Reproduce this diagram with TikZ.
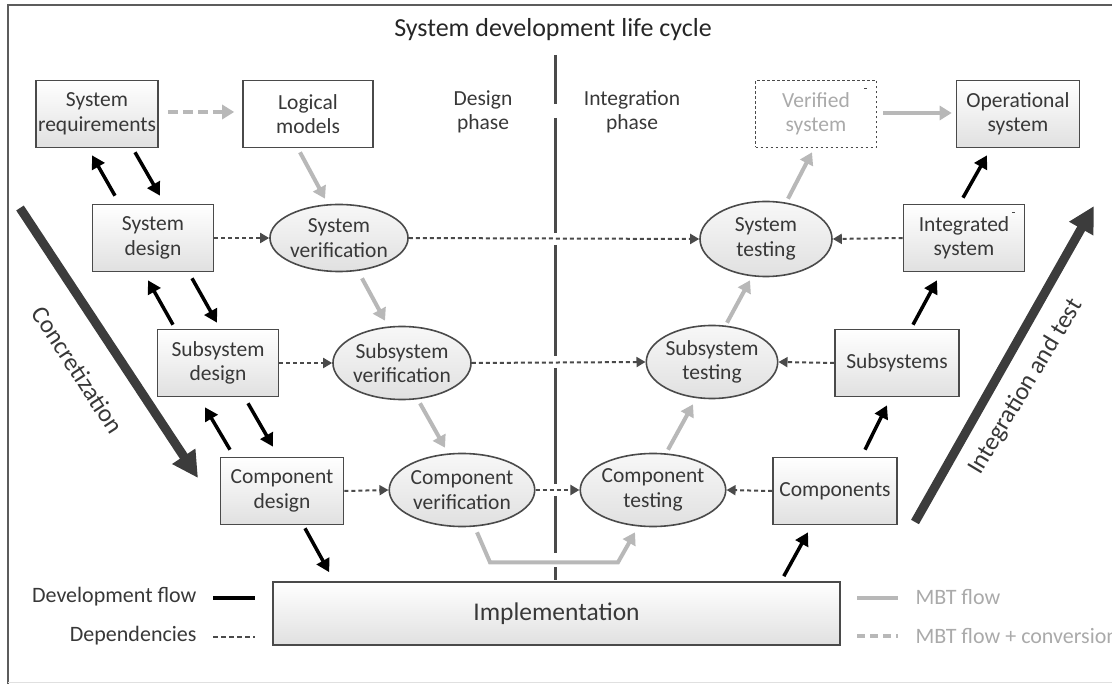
\documentclass[tikz,border=0pt]{standalone}
\usepackage{fontspec}
\setmainfont{Carlito}
\usetikzlibrary{arrows.meta,shapes.geometric,calc}
\definecolor{txt}{HTML}{383838}
\definecolor{edge}{HTML}{4A4A4A}
\definecolor{mbt}{HTML}{B8B8B8}
\definecolor{mbttxt}{HTML}{AAAAAA}
\definecolor{big}{HTML}{3C3C3C}
\newcommand{\nfont}{\fontsize{21.5}{24.5}\selectfont}
\begin{document}
\begin{tikzpicture}[x=1pt,y=-1pt,
  box/.style={draw=edge,line width=1.6pt,top color=white,bottom color=black!12,
    minimum width=121pt,minimum height=67pt,inner sep=2pt,align=center,font=\nfont,text=txt},
  ell/.style={ellipse,draw=edge,line width=1.6pt,top color=black!3,bottom color=black!12,
    minimum width=130pt,minimum height=73pt,inner sep=0pt,align=center,font=\nfont,text=txt},
  lbl/.style={align=center,font=\nfont,text=txt},
  flow/.style={black,line width=3.5pt,-{Triangle[length=13pt,width=14pt]}},
  gflow/.style={mbt,line width=4pt,-{Triangle[length=12pt,width=14pt]}},
  dep/.style={edge,line width=2pt,dash pattern=on 4pt off 3pt,-{Triangle[length=9pt,width=10pt]}},
  bigarrow/.style={big,line width=9pt,-{Triangle[length=26pt,width=26pt]}},
  legtxt/.style={font=\fontsize{22}{25}\selectfont,text=txt},
  mbtleg/.style={font=\fontsize{22}{25}\selectfont,text=mbttxt},
]
\useasboundingbox (0,0) rectangle (1112,684);
% frame
\draw[edge!90,line width=2pt] (1112,5) -- (8,5) -- (8,684);
\draw[black!12,line width=1pt] (8,682) -- (1112,682);

% title and phases
\node[font=\fontsize{26}{30}\selectfont,text=black!85] (title) at (553,30) {System development life cycle};
\node[lbl] (dphase) at (483,112) {Design\\phase};
\node[lbl] (iphase) at (632,112) {Integration\\phase};

% divider
\draw[edge,line width=3pt] (555,55) -- (555,104) (555,118) -- (555,233) (555,245) -- (555,356)
  (555,368) -- (555,484) (555,496) -- (555,553) (555,567) -- (555,580);

% boxes
\node[box] (sreq) at (97,114) {System\\requirements};
\node[box,top color=white,bottom color=white,minimum width=130pt] (lm) at (308,114) {Logical\\models};
\node[box,draw=edge,dash pattern=on 2.5pt off 2.5pt,top color=white,bottom color=white,text=mbttxt] (vs) at (816,114) {Verified\\system};
\node[box,minimum width=123pt] (op) at (1018,114) {Operational\\system};
\node[box] (sd) at (153,238) {System\\design};
\node[box] (is) at (964,238) {Integrated\\system};
\node[box] (ssd) at (218,363) {Subsystem\\design};
\node[box,minimum width=124pt] (subs) at (897,363) {Subsystems};
\node[box,minimum width=123pt] (cd) at (282,491) {Component\\design};
\node[box,minimum width=124pt] (comps) at (835,491) {Components};
\node[box,minimum width=567pt,minimum height=63pt,font=\fontsize{25.5}{30}\selectfont] (impl) at (556.5,613.5) {Implementation};

% small marks
\draw[edge,line width=1pt] (864,89) -- (867,89);
\draw[edge,line width=1pt] (1012,213) -- (1015,213);

% ellipses
\node[ell,minimum width=128pt,minimum height=67pt] (sv) at (339,238) {System\\verification};
\node[ell] (ssv) at (402,363) {Subsystem\\verification};
\node[ell] (cv) at (462,490) {Component\\verification};
\node[ell] (ct) at (653,490) {Component\\testing};
\node[ell,minimum width=129pt] (sst) at (712,362) {Subsystem\\testing};
\node[ell,minimum width=132pt,minimum height=75pt] (st) at (766,239) {System\\testing};

% dependencies
\draw[dep] (sd.east) -- (sv.west);
\draw[dep] (sv.east) -- (st.west);
\draw[dep] (is.west) -- (st.east);
\draw[dep] (ssd.east) -- (ssv.west);
\draw[dep] (ssv.east) -- (sst.west);
\draw[dep] (subs.west) -- (sst.east);
\draw[dep] (cd.east) -- (cv.west);
\draw[dep] (cv.east) -- (ct.west);
\draw[dep] (comps.west) -- (ct.east);

% MBT flow
\draw[gflow,dash pattern=on 10pt off 5pt] ([shift={(9,-2)}]sreq.east) -- ([shift={(-8,-2)}]lm.west);
\draw[gflow] ([shift={(-8,4)}]lm.south) -- ([shift={(-14,-5)}]sv.north);
\draw[gflow] ([shift={(23,6)}]sv.south) -- ([shift={(-17,-5)}]ssv.north);
\draw[gflow] ([shift={(18,3)}]ssv.south) -- ([shift={(-17,-5)}]cv.north);
\draw[gflow] ([shift={(15,5)}]cv.south) -- ++(13,30) -- ([shift={(-35,35)}]ct.south) -- ([shift={(-18,5)}]ct.south);
\draw[gflow] ([shift={(15,-3)}]ct.north) -- ([shift={(-19,5)}]sst.south);
\draw[gflow] ([shift={(15,-2)}]sst.north) -- ([shift={(-16,3)}]st.south);
\draw[gflow] ([shift={(22,-2)}]st.north) -- ([shift={(-4,4)}]vs.south);
\draw[gflow] ([shift={(6,-1)}]vs.east) -- ([shift={(-4,-1)}]op.west);

% development flow
\draw[flow] ([shift={(-38,-8)}]sd.north) -- ([shift={(-5,7)}]sreq.south);
\draw[flow] ([shift={(38,4)}]sreq.south) -- ([shift={(7,-8)}]sd.north);
\draw[flow] ([shift={(-45,-4)}]ssd.north) -- ([shift={(-5,8)}]sd.south);
\draw[flow] ([shift={(39,6)}]sd.south) -- ([shift={(-1,-6)}]ssd.north);
\draw[flow] ([shift={(-52,-7)}]cd.north) -- ([shift={(-13,10)}]ssd.south);
\draw[flow] ([shift={(30,6)}]ssd.south) -- ([shift={(-9,-10)}]cd.north);
\draw[flow] ([shift={(23,3)}]cd.south) -- ([shift={(57,-9)}]impl.north west);
\draw[flow] ([shift={(-57,-5)}]impl.north east) -- ([shift={(-27,7)}]comps.south);
\draw[flow] ([shift={(30,-7)}]comps.north) -- ([shift={(-10,8)}]subs.south);
\draw[flow] ([shift={(16,-4)}]subs.north) -- ([shift={(-27,8)}]is.south);
\draw[flow] ([shift={(-1,-6)}]is.north) -- ([shift={(-31,7)}]op.south);

% big arrows
\coordinate (c1) at (20,208);
\coordinate (c2) at (198,478);
\draw[bigarrow] (c1) -- (c2);
\node[font=\fontsize{25}{30}\selectfont,text=txt,rotate=-57] (conc) at (78,370) {Concretization};
\coordinate (i1) at (915,522);
\coordinate (i2) at (1094,206);
\draw[bigarrow] (i1) -- (i2);
\node[font=\fontsize{25}{30}\selectfont,text=txt,rotate=59] (integ) at (1026,387) {Integration and test};

% legend
\node[legtxt,anchor=east] (l1) at (200,597) {Development flow};
\node[legtxt,anchor=east] (l2) at (200,636) {Dependencies};
\draw[black,line width=4pt] (213,598) -- (255,598);
\draw[edge,line width=2pt,dash pattern=on 5pt off 3pt] (213,637) -- (255,637);
\draw[mbt,line width=4pt] (857,598) -- (898,598);
\draw[mbt,line width=4pt,dash pattern=on 8pt off 5pt] (857,636) -- (898,636);
\node[mbtleg,anchor=west] (l3) at (912,597) {MBT flow};
\node[mbtleg,anchor=west] (l4) at (912,636) {MBT flow + conversion};
\end{tikzpicture}
\end{document}
